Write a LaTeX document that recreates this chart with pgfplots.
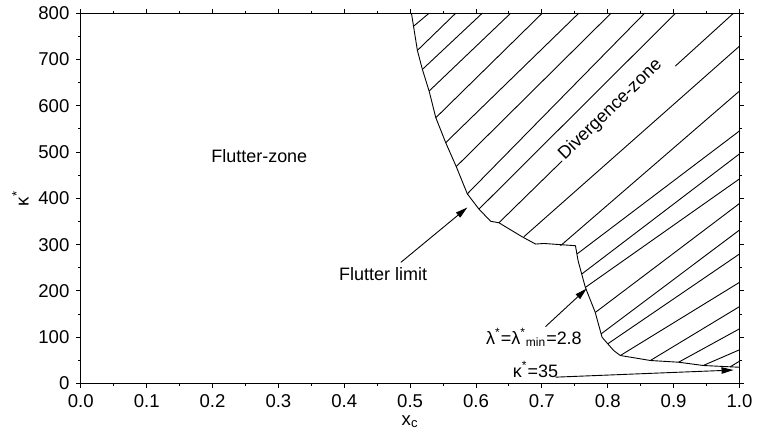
\documentclass[border=0pt]{standalone}
\usepackage{fontspec}
\setmainfont{Liberation Sans}
\usepackage{pgfplots}
\pgfplotsset{compat=1.18}
\usetikzlibrary{arrows.meta}
\begin{document}
\begin{tikzpicture}
\begin{axis}[
  scale only axis, width=330pt, height=185.5pt,
  xmin=0, xmax=1, ymin=0, ymax=800,
  xtick={0,0.1,0.2,0.3,0.4,0.5,0.6,0.7,0.8,0.9,1},
  ytick={0,100,200,300,400,500,600,700,800},
  minor x tick num=1, minor y tick num=1,
  tick align=outside, tick pos=both,
  major tick length=2.2pt, minor tick length=1.3pt,
  xticklabel style={/pgf/number format/fixed, /pgf/number format/precision=1, /pgf/number format/fixed zerofill},
  /pgf/number format/assume math mode=true,
  tick label style={font=\fontsize{9.3}{11}\selectfont},
  label style={font=\fontsize{9.3}{11}\selectfont},
  xlabel={x\textsubscript{c}}, ylabel={κ\textsuperscript{*}},
  xlabel style={yshift=3pt},
  ylabel style={yshift=-2pt},
  axis line style={line width=0.6pt},
  every tick/.style={black, line width=0.5pt},
  unbounded coords=jump,
  clip=false,
]
% flutter boundary
\addplot[black, line width=0.45pt] coordinates {
(0.502,800) (0.511,719.6) (0.5186,678.6) (0.5288,631.8) (0.539,574.2)
(0.554,520.3) (0.570,468.6) (0.5868,409.7) (0.6045,376.7) (0.6223,350.4)
(0.6348,347.2) (0.670,317) (0.6905,301.2) (0.703,302.5) (0.751,297.6)
(0.755,265.2) (0.766,207.7) (0.781,153.7) (0.7914,99.8) (0.809,71.2)
(0.819,60.4) (0.8647,49.6) (0.9076,45.9) (0.945,38.8) (1.0,35)
};
% hatch lines
\addplot[black, line width=0.45pt] coordinates {
(0.5053,772) (0.5288,800) (nan,nan)
(0.511,719.6) (0.5692,800) (nan,nan)
(0.5186,678.6) (0.6095,800) (nan,nan)
(0.5288,631.8) (0.6526,800) (nan,nan)
(0.539,574.2) (0.7005,800) (nan,nan)
(0.554,520.3) (0.756,800) (nan,nan)
(0.570,468.6) (0.805,800) (nan,nan)
(0.5868,409.7) (0.856,800) (nan,nan)
(0.6045,376.7) (0.903,800) (nan,nan)
(0.6348,347.2) (0.7308,480.9) (nan,nan)
(0.9026,685.7) (0.991,800) (nan,nan)
(0.6727,317) (1,728.8) (nan,nan)
(0.7283,297.6) (1,631.8) (nan,nan)
(0.7533,279.7) (1,545.6) (nan,nan)
(0.7606,236.5) (1,496) (nan,nan)
(0.7662,207.7) (1,442) (nan,nan)
(0.7814,153.7) (1,388.8) (nan,nan)
(0.79,107.2) (1,331.4) (nan,nan)
(0.8,85.6) (1,279.7) (nan,nan)
(0.8192,60.4) (1,218.4) (nan,nan)
(0.8647,49.6) (1,166) (nan,nan)
(0.9076,45.9) (1,118) (nan,nan)
(0.945,38.8) (1,72.7) (nan,nan)
(0.986,36) (1,48)
};
% arrows
\addplot[black, line width=0.45pt, -{Triangle[length=6pt,width=3.2pt]}] coordinates {(0.4859,261.6) (0.5868,380.2)};
\addplot[black, line width=0.45pt, -{Triangle[length=6pt,width=3.2pt]}] coordinates {(0.7056,122.9) (0.768,205)};
\addplot[black, line width=0.45pt, -{Triangle[length=6pt,width=3.2pt]}] coordinates {(0.7208,13.6) (0.991,29)};
% labels
\node[font=\fontsize{9}{11}\selectfont] at (axis cs:0.271,491.6) {Flutter-zone};
\node[font=\fontsize{9}{11}\selectfont] at (axis cs:0.459,237) {Flutter limit};
\node[font=\fontsize{9}{11}\selectfont, rotate=44, anchor=base, fill=white, inner sep=0.6pt] at (axis cs:0.809,584) {Divergence-zone};
\node[font=\fontsize{9}{11}\selectfont] at (axis cs:0.688,99.2) {λ\textsuperscript{*}=λ\textsuperscript{*}\textsubscript{min}=2.8};
\node[font=\fontsize{9}{11}\selectfont] at (axis cs:0.6904,30.2) {κ\textsuperscript{*}=35};
% page extent
\path (rel axis cs:-0.1227,-0.1536) rectangle (rel axis cs:1.0273,1.0323);
\end{axis}
\end{tikzpicture}
\end{document}
